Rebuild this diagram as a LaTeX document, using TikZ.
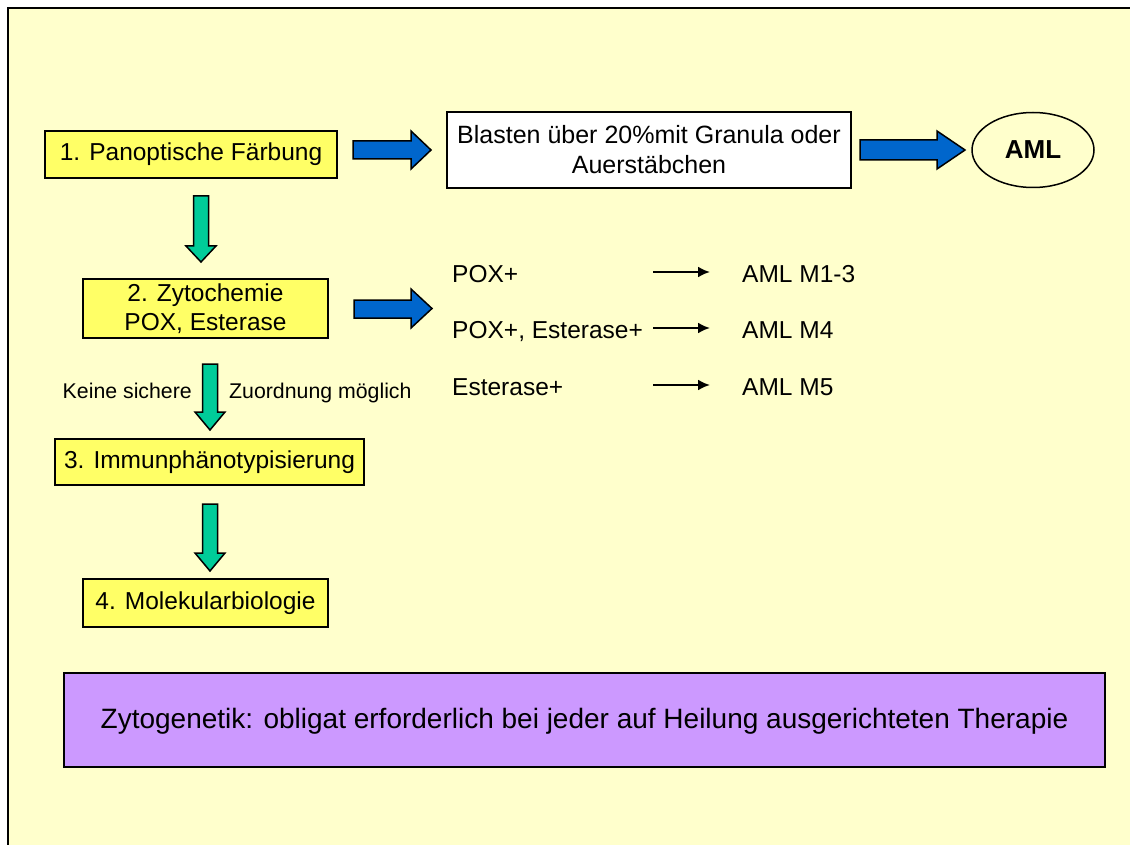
\documentclass[tikz,border=0pt]{standalone}
\usepackage{fontspec}
\setmainfont{Liberation Sans}
\usetikzlibrary{arrows.meta,shapes.geometric,calc}
\definecolor{bg}{HTML}{FFFFCC}
\definecolor{ybox}{HTML}{FFFF66}
\definecolor{barrow}{HTML}{0066CC}
\definecolor{garrow}{HTML}{00CC99}
\definecolor{purp}{HTML}{CC99FF}
\tikzset{
  stepbox/.style={draw=black, line width=1.5pt, fill=ybox, inner sep=0pt, align=center,
    font=\fontsize{24.5}{29}\selectfont},
  whitebox/.style={draw=black, line width=1.5pt, fill=white, inner sep=0pt, align=center,
    font=\fontsize{25}{30}\selectfont},
  lbl/.style={inner sep=0pt, font=\fontsize{24.5}{29}\selectfont},
  smalllbl/.style={inner sep=0pt, font=\fontsize{21.3}{24}\selectfont},
  bluearr/.style={draw=black, line width=1.5pt, fill=barrow, line join=miter},
  greenarr/.style={draw=black, line width=1.5pt, fill=garrow, line join=miter},
  thinarr/.style={line width=2.2pt, -{Latex[length=12pt,width=11pt]}},
}
\begin{document}
\begin{tikzpicture}[x=1pt,y=-1pt]
\useasboundingbox (0,0) rectangle (1130,845);
\fill[white] (0,0) rectangle (1130,845);
\fill[bg] (8,8) rectangle (1130,845);
\draw[line width=2pt] (8,845) -- (8,8) -- (1130,8);

% boxes
\node[stepbox, minimum width=292pt, minimum height=47pt] (s1) at (191,154.5) {1. Panoptische Färbung};
\node[whitebox, minimum width=404pt, minimum height=76pt] (bl) at (649,150) {Blasten über 20\%mit Granula oder\\Auerstäbchen};
\node[ellipse, draw=black, line width=1.5pt, fill=bg, minimum width=122pt, minimum height=75pt, inner sep=0pt,
  font=\bfseries\fontsize{26}{30}\selectfont] (aml) at (1033,150) {AML};
\node[stepbox, minimum width=245pt, minimum height=59pt] (s2) at (205.5,308.5) {2. Zytochemie\\POX, Esterase};
\node[stepbox, minimum width=309pt, minimum height=46pt] (s3) at (209.5,462) {3. Immunphänotypisierung};
\node[stepbox, minimum width=245pt, minimum height=48pt] (s4) at (205.5,603) {4. Molekularbiologie};
\node[draw=black, line width=1.5pt, fill=purp, minimum width=1041pt, minimum height=94pt, inner sep=0pt] (zg) at (584.5,720) {};
\node[inner sep=0pt, anchor=base, font=\fontsize{28}{32}\selectfont] (zgt) at (584.5,728)
  {Zytogenetik: obligat erforderlich bei jeder auf Heilung ausgerichteten Therapie};

% block arrows
\draw[bluearr] (353,141)--(411,141)--(411,131)--(431,150)--(411,169)--(411,159)--(353,159)--cycle;
\draw[bluearr] (860,140)--(937,140)--(937,131)--(965,150)--(937,169)--(937,160)--(860,160)--cycle;
\draw[bluearr] (354,300)--(411,300)--(411,289)--(432,308.5)--(411,328)--(411,318)--(354,318)--cycle;

\draw[greenarr] (193.5,196)--(208.5,196)--(208.5,246)--(216,246)--(201,262)--(186,246)--(193.5,246)--cycle;
\draw[greenarr] (202.5,364)--(217.5,364)--(217.5,412)--(225,412)--(210,430)--(195,412)--(202.5,412)--cycle;
\draw[greenarr] (202.5,504)--(217.5,504)--(217.5,553)--(225,553)--(210,571)--(195,553)--(202.5,553)--cycle;

% labels beside arrow 2
\node[smalllbl, anchor=base east] (k1) at (192,398) {Keine sichere};
\node[smalllbl, anchor=base west] (k2) at (229,398) {Zuordnung möglich};

% right column
\node[lbl, anchor=base west] (p1) at (452,282) {POX+};
\node[lbl, anchor=base west] (p2) at (452,338) {POX+, Esterase+};
\node[lbl, anchor=base west] (p3) at (452,395) {Esterase+};
\node[lbl, anchor=base west] (m1) at (742,282) {AML M1-3};
\node[lbl, anchor=base west] (m2) at (742,338) {AML M4};
\node[lbl, anchor=base west] (m3) at (742,395) {AML M5};

\coordinate (a1) at (653,272);
\coordinate (a2) at (653,328);
\coordinate (a3) at (653,385);
\draw[thinarr, shorten >=32pt] (a1) -- (m1.west |- a1);
\draw[thinarr, shorten >=32pt] (a2) -- (m2.west |- a2);
\draw[thinarr, shorten >=32pt] (a3) -- (m3.west |- a3);
\end{tikzpicture}
\end{document}
